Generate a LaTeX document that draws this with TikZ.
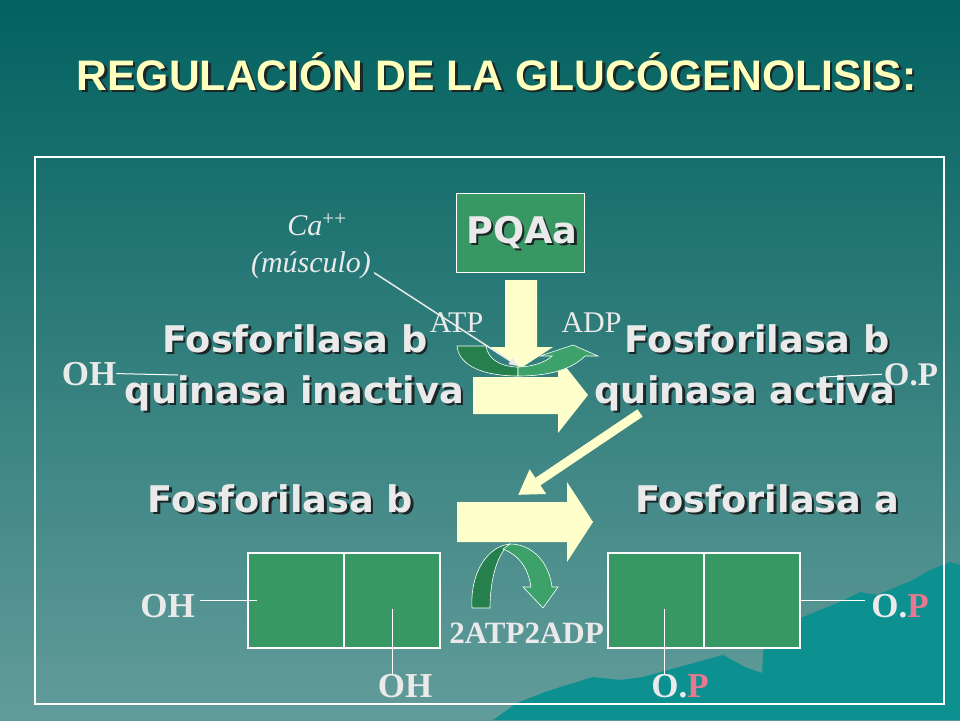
\documentclass[tikz,border=0pt]{standalone}
\usepackage{fontspec}
\setmainfont{Liberation Serif}
\newfontfamily\labelfont{DejaVu Sans}
\newfontfamily\titlefont{Liberation Sans}
\usepackage{tikz}
\usetikzlibrary{arrows.meta,positioning}

\definecolor{bgtop}{RGB}{2,98,96}
\definecolor{bgbot}{RGB}{98,156,154}
\definecolor{hill}{RGB}{12,144,144}
\definecolor{cellgreen}{RGB}{56,152,100}
\definecolor{darkgreen}{RGB}{38,128,78}
\definecolor{lightgreen}{RGB}{60,162,106}
\definecolor{pale}{RGB}{255,255,204}
\definecolor{titlecol}{RGB}{255,255,190}
\definecolor{txt}{RGB}{234,234,234}
\definecolor{shade}{RGB}{28,38,38}
\definecolor{phospho}{RGB}{232,120,144}

% text with a dark drop shadow: style, name, position, text
\newcommand\shlabel[4]{%
  \node[#1, text=shade, xshift=2.5pt, yshift=-2.5pt] at (#3) {#4};
  \node[#1] (#2) at (#3) {#4};}

\begin{document}
\begin{tikzpicture}[x=1pt,y=-1pt,
    heading/.style={font=\titlefont\bfseries\fontsize{42.7}{46}\selectfont, text=titlecol, anchor=base, inner sep=0pt},
    enz/.style={font=\labelfont\bfseries\fontsize{36.7}{40}\selectfont, text=txt, anchor=base, inner sep=0pt},
    grp/.style={font=\bfseries\fontsize{35}{40}\selectfont, text=txt, anchor=base, inner sep=0pt},
    nuc/.style={font=\fontsize{30}{34}\selectfont, text=txt, anchor=base, inner sep=0pt},
    ion/.style={font=\itshape\fontsize{30}{34}\selectfont, text=txt, anchor=base, inner sep=0pt},
    cell/.style={draw=white, line width=1.2pt, fill=cellgreen, minimum width=96pt, minimum height=95pt, inner sep=0pt, outer sep=0pt},
    link/.style={draw=white, line width=1pt},
    bandline/.style={draw=white, line width=0.6pt}]
  \useasboundingbox (0,0) rectangle (960,720);

  % background and hills
  \shade[top color=bgtop, bottom color=bgbot] (0,0) rectangle (960,720);
  \fill[hill] (493,720) -- (517,703) -- (545,692) -- (567,685) -- (593,677) -- (620,680) -- (643,677)
    -- (690,664) -- (723,655) -- (745,667) -- (762,673) -- (765,622) -- (785,618) -- (803,617)
    -- (840,602) -- (860,592) -- (877,595) -- (913,580) -- (930,570) -- (950,562) -- (960,565)
    -- (960,720) -- cycle;

  \shlabel{heading}{title}{496.5,90}{REGULACIÓN DE LA GLUCÓGENOLISIS:}
  \draw[white, line width=1.2pt] (35,157) rectangle (944,704);

  % kinase step
  \node[draw=white, line width=1pt, fill=cellgreen, minimum width=128pt, minimum height=79pt] (pqaBox) at (520,232.5) {};
  \shlabel{enz}{pqa}{522,243}{PQAa}
  \node[ion] (ca) at (317,235) {Ca\textsuperscript{\upshape ++}};
  \node[ion] (musc) at (311,272) {(músculo)};

  \shlabel{enz}{kinB}{295,352}{Fosforilasa b}
  \shlabel{enz}{kinBq}{294.5,403}{quinasa inactiva}
  \shlabel{enz}{kinA}{757,352}{Fosforilasa b}
  \shlabel{enz}{kinAq}{745,403}{quinasa activa}
  \node[grp] (ohK) at (89,385) {OH};
  \node[grp, font=\bfseries\fontsize{33}{36}\selectfont] (opK) at (911,385) {O.P};
  \node[nuc] (atp) at (456.5,332) {ATP};
  \node[nuc] (adp) at (591.5,332) {ADP};

  \coordinate (ohKend) at (178,375);
  \coordinate (opKend) at (823,377);
  \draw[link] (ohK.east) -- (ohKend);
  \draw[link] (opKend) -- ([xshift=-2pt]opK.west);

  \fill[pale] (505,280) -- (537,280) -- (537,347) -- (553,347) -- (521,368) -- (490,347) -- (505,347) -- cycle;
  \fill[pale] (473,377) -- (558,377) -- (558,357) -- (588,395) -- (558,433) -- (558,414) -- (473,414) -- cycle;
  \filldraw[fill=darkgreen, bandline] (457,346) -- (486,346) .. controls (488,360) and (502,367) .. (518,367)
    -- (518,376) .. controls (486,376) and (459,367) .. (457,346) -- cycle;
  \filldraw[fill=lightgreen, bandline] (518,367) .. controls (530,367) and (545,363) .. (552,356) -- (540,356)
    -- (573,345) -- (598,356) -- (585,356) .. controls (572,369) and (550,376) .. (518,376) -- cycle;

  \coordinate (caTip) at (518,366);
  \draw[txt, line width=1.5pt, -{Triangle[length=9pt,width=7pt]}] (musc.east) ++(3,8) -- (caTip);

  % phosphorylase step
  \shlabel{enz}{fosB}{280.5,512}{Fosforilasa b}
  \shlabel{enz}{fosA}{767,512}{Fosforilasa a}

  \fill[pale] (457,502) -- (567,502) -- (567,482) -- (593,522) -- (567,562) -- (567,542) -- (457,542) -- cycle;
  \coordinate (actTail) at (640,413);
  \coordinate (fosTip) at (518,495);
  \draw[pale, line width=9pt, -{Triangle[length=24pt,width=28pt]}] (actTail) -- (fosTip);

  \filldraw[fill=darkgreen, bandline] (472,608) .. controls (470,572) and (488,546) .. (510,544)
    .. controls (498,552) and (490,578) .. (490,608) -- cycle;
  \filldraw[fill=lightgreen, bandline] (510,544) .. controls (532,544) and (549,562) .. (552,587) -- (558,587)
    -- (543,608) -- (523,587) -- (531,587) .. controls (528,568) and (520,556) .. (503,549) -- cycle;
  \node[nuc, font=\bfseries\fontsize{31}{34}\selectfont] (atp2) at (526.5,643) {2ATP2ADP};

  % the two enzyme forms
  \node[cell] (cellA1) at (296,600.5) {};
  \node[cell, right=0pt of cellA1] (cellA2) {};
  \node[cell] (cellB1) at (656,600.5) {};
  \node[cell, right=0pt of cellB1] (cellB2) {};

  \node[grp] (ohL) at (167.5,617) {OH};
  \node[grp] (ohB) at (405,697) {OH};
  \node[grp] (opR) at (900,617) {O.\textcolor{phospho}{P}};
  \node[grp] (opB) at (680,697) {O.\textcolor{phospho}{P}};

  \coordinate (ohLend) at ([xshift=9pt]cellA1.west);
  \coordinate (dropA) at ([yshift=-8pt]cellA2.center);
  \coordinate (dropB) at ([xshift=8pt,yshift=-8pt]cellB1.center);
  \coordinate (opRend) at ([xshift=-6pt]opR.west);
  \draw[link] (ohL.east |- ohLend) ++(5,0) -- (ohLend);
  \draw[link] (dropA) -- (dropA |- ohB.north);
  \draw[link] (dropB) -- (dropB |- opB.north);
  \draw[link] (cellB2.east) -- (opRend |- cellB2.east);
\end{tikzpicture}
\end{document}
